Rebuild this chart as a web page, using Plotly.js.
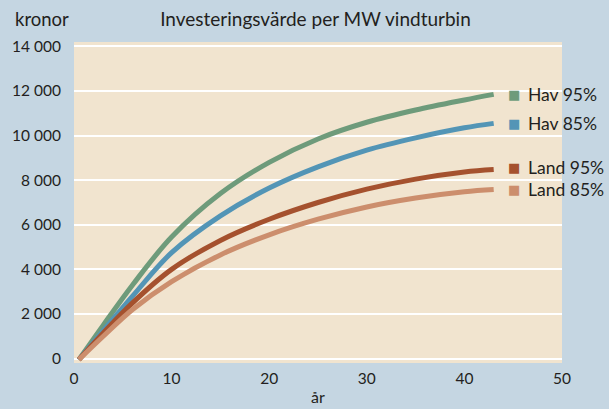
<!DOCTYPE html>
<html>
<head>
<meta charset="utf-8">
<script src="https://cdn.plot.ly/plotly-3.0.1.min.js"></script>
<style>
  html, body { margin: 0; padding: 0; background: #c5d6e2; }
  #chart { width: 609px; height: 409px; }
</style>
</head>
<body>
<div id="chart"></div>
<script>
// Investeringsvärde per MW vindturbin (kronor per år)
const years = [0.5, 3, 6, 10, 15, 20, 25, 30, 35, 40, 43];
const hav95 = [-50, 1500, 3300, 5450, 7400, 8800, 9850, 10600, 11150, 11600, 11850];
const hav85 = [-50, 1250, 2800, 4750, 6400, 7650, 8600, 9350, 9900, 10350, 10550];
const land95 = [-50, 1150, 2500, 4000, 5300, 6250, 7000, 7600, 8050, 8370, 8480];
const land85 = [-50, 1000, 2200, 3450, 4650, 5550, 6250, 6800, 7200, 7480, 7580];

const seriesNames = ['Hav 95%', 'Hav 85%', 'Land 95%', 'Land 85%'];
const seriesColors = ['#6e9b7b', '#5395b6', '#a5512e', '#cc8e6d'];
const seriesValues = [hav95, hav85, land95, land85];

const yTickVals = [0, 2000, 4000, 6000, 8000, 10000, 12000, 14000];
const yTickText = ['0', '2 000', '4 000', '6 000', '8 000', '10 000', '12 000', '14 000'];
const xTickVals = [0, 10, 20, 30, 40, 50];

const fontFamily = 'Lato, "Open Sans", sans-serif';
const textColor = '#231f20';

const traces = seriesValues.map((vals, i) => ({
    x: years,
    y: vals,
    type: 'scatter',
    mode: 'lines',
    name: seriesNames[i],
    line: { color: seriesColors[i], width: 5, shape: 'spline', smoothing: 1 },
    hoverinfo: 'skip'
}));

// labels sit next to the end of each curve, like the original
const labelNudge = [0, 0, 80, 0];
const annotations = [];
seriesValues.forEach((vals, i) => {
    const yEnd = vals[vals.length - 1] + labelNudge[i];
    annotations.push({
        x: 45.1, y: yEnd, xref: 'x', yref: 'y',
        text: '■', showarrow: false,
        font: { size: 13, color: seriesColors[i], family: 'DejaVu Sans' },
        xanchor: 'center', yanchor: 'middle'
    });
    annotations.push({
        x: 46.3, y: yEnd, xref: 'x', yref: 'y',
        text: seriesNames[i], showarrow: false,
        font: { size: 17.5, color: textColor, family: fontFamily },
        xanchor: 'left', yanchor: 'middle'
    });
});

annotations.push({
    x: 0, y: 1, xref: 'paper', yref: 'paper',
    xshift: -61, yshift: 23,
    text: 'kronor', showarrow: false,
    xanchor: 'left', yanchor: 'middle',
    font: { size: 18.5, family: fontFamily, color: textColor }
});

const layout = {
    width: 609,
    height: 409,
    margin: { l: 74, r: 47, t: 42, b: 46 },
    paper_bgcolor: '#c5d6e2',
    plot_bgcolor: '#f1e4cf',
    font: { family: fontFamily, size: 15, color: textColor },
    showlegend: false,
    title: {
        text: 'Investeringsvärde per MW vindturbin',
        font: { size: 19, family: fontFamily, color: textColor },
        x: 0.518, xanchor: 'center',
        y: 0.953, yanchor: 'middle'
    },
    xaxis: {
        range: [0, 50],
        tickvals: xTickVals,
        showgrid: false,
        zeroline: false,
        showline: false,
        ticks: '',
        ticklabelstandoff: 4,
        tickfont: { size: 15.5 },
        title: { text: 'år', font: { size: 16 }, standoff: 6 }
    },
    yaxis: {
        range: [-200, 14200],
        tickvals: yTickVals,
        ticktext: yTickText,
        showgrid: true,
        gridcolor: '#ffffff',
        gridwidth: 2,
        zeroline: false,
        showline: false,
        ticks: '',
        ticklabelstandoff: 12,
        tickfont: { size: 15.5 }
    },
    annotations: annotations
};

Plotly.newPlot('chart', traces, layout, { displayModeBar: false, staticPlot: true });
</script>
</body>
</html>
